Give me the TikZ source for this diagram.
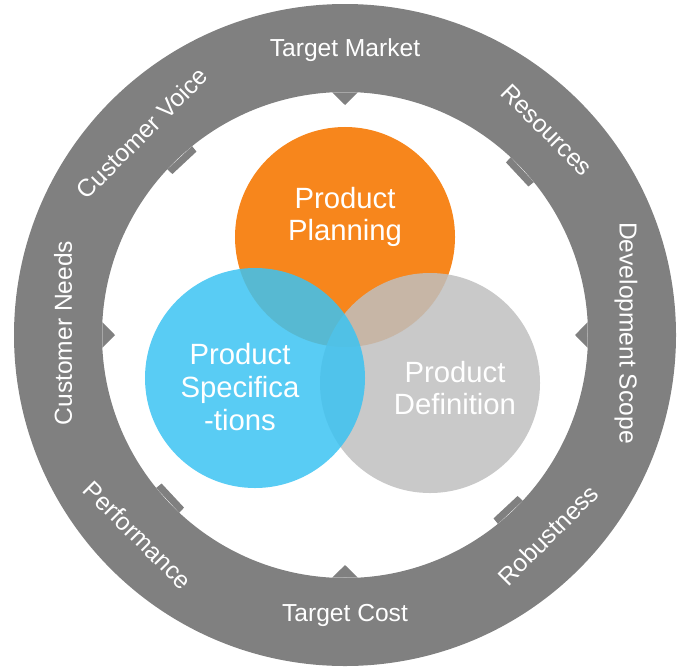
\documentclass[tikz,border=0pt]{standalone}
\usepackage{fontspec}
\setmainfont{Liberation Sans}
\usetikzlibrary{calc}
\definecolor{ringgray}{HTML}{808080}
\definecolor{planorange}{HTML}{F7861C}
\definecolor{specblue}{HTML}{3CC3F2}
\definecolor{defgray}{HTML}{BFBFBF}
\begin{document}
\begin{tikzpicture}[x=0.03cm,y=-0.03cm]
	\tikzset{
		ringlabel/.style={text=white, inner sep=1pt, font=\fontsize{21}{24}\selectfont},
		bubble/.style={circle, minimum size=6.6cm, inner sep=0pt},
		bubblelabel/.style={text=white, align=center, font=\fontsize{25}{28}\selectfont},
		notch/.style={fill=ringgray},
	}
	\useasboundingbox (0,0) rectangle (682,671);
	% ring
	\fill[ringgray, even odd rule] (345,335) circle[radius=331] (345,335) circle[radius=243];
	\coordinate (ctr) at (345,335);
	\foreach \a in {0,90,180,270} {
		\fill[notch] ($(ctr)+(\a-3:243)$) -- ($(ctr)+(\a:230)$) -- ($(ctr)+(\a+3:243)$) -- cycle;
	}
	\foreach \a in {45,135,225,315} {
		\fill[notch] ($(ctr)+(\a-2:243)$) -- ($(ctr)+(\a-2:236)$) -- ($(ctr)+(\a+6:236)$) -- ($(ctr)+(\a+6:243)$) -- cycle;
	}
	% circles
	\node[bubble, fill=planorange] (plan) at (345,237) {};
	\node[bubble, fill=defgray, opacity=0.85] (def) at (430,383) {};
	\node[bubble, fill=specblue, opacity=0.85] (spec) at (255,378) {};
	\node[bubblelabel] (planlbl) at (345,217) {Product\\Planning};
	\node[bubblelabel] (deflbl) at (455,388) {Product\\Definition};
	\node[bubblelabel] (speclbl) at (240,387) {Product\\Specifica\\-tions};
	% ring labels
	\node[ringlabel] (tm) at (345,50) {Target Market};
	\node[ringlabel] (tc) at (345,615) {Target Cost};
	\node[ringlabel, rotate=90] (cn) at (63,333) {Customer Needs};
	\node[ringlabel, rotate=-90] (ds) at (626,333) {Development Scope};
	\node[ringlabel, rotate=45] (cv) at (142,133) {Customer Voice};
	\node[ringlabel, rotate=-45] (res) at (547,130) {Resources};
	\node[ringlabel, rotate=-45] (perf) at (138,535) {Performance};
	\node[ringlabel, rotate=45] (rob) at (548,535) {Robustness};
\end{tikzpicture}
\end{document}
